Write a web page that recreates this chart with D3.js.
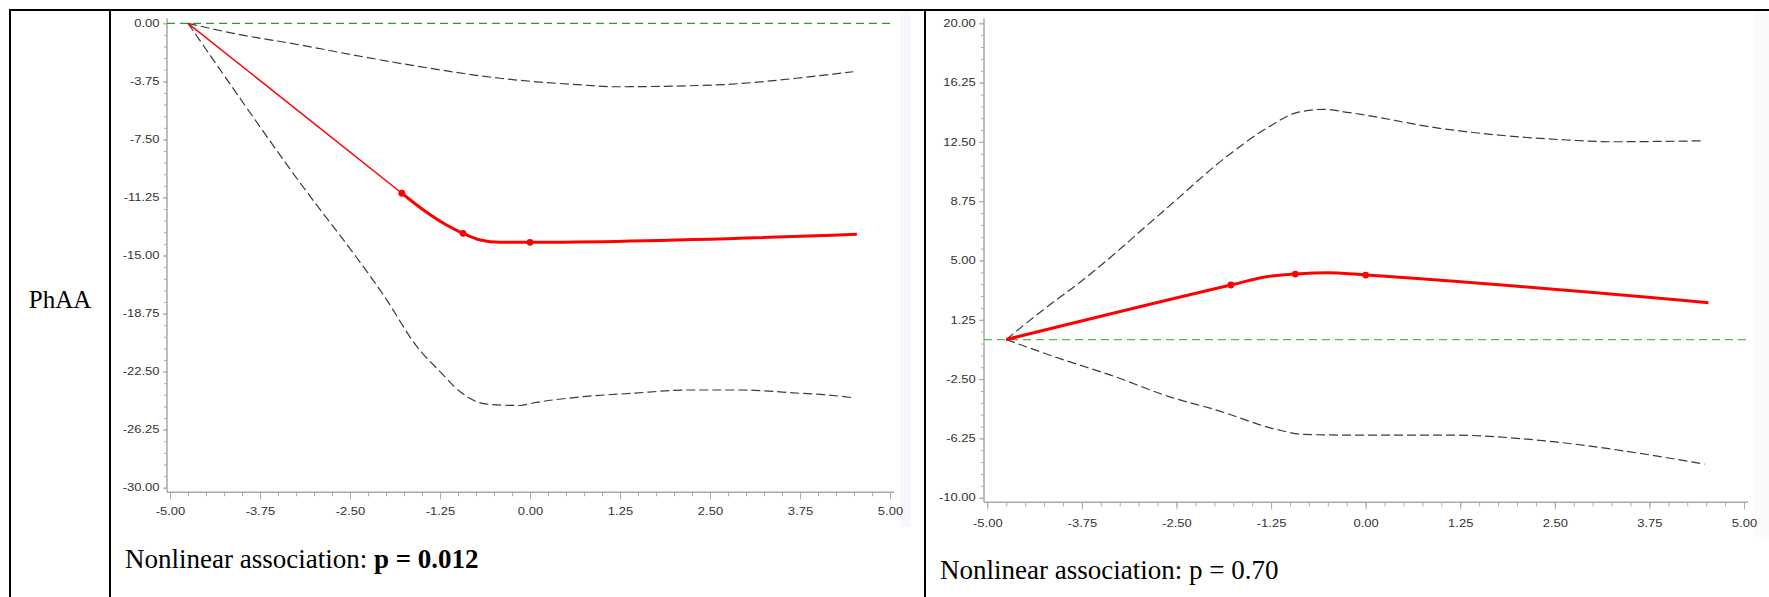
<!doctype html>
<html lang="en">
<head>
  <meta charset="UTF-8">
  <title>PhAA</title>
  <script src="https://cdn.jsdelivr.net/npm/d3@7"></script>
</head>
<body style="margin: 0; background: white">
<div id="container"></div>
<script type="text/javascript">
// tick values
var xTicks = [-5, -3.75, -2.5, -1.25, 0, 1.25, 2.5, 3.75, 5];
var leftYTicks = [-30, -26.25, -22.5, -18.75, -15, -11.25, -7.5, -3.75, 0];
var rightYTicks = [-10, -6.25, -2.5, 1.25, 5, 8.75, 12.5, 16.25, 20];

// left panel: [x, y]
var leftEstimateStart = [[-4.75, 0], [-1.78, -10.98]];
var leftEstimate = [[-1.78, -10.98], [-1.48, -12.06], [-1.16, -13.03], [-0.93, -13.57],
  [-0.69, -14.0], [-0.42, -14.15], [0, -14.15], [4.54, -13.63]];
var leftKnots = [[-1.78, -10.98], [-0.93, -13.57], [0, -14.15]];
var leftUpper = [[-4.75, 0], [-4.12, -0.65], [-3.19, -1.40], [-2.45, -2.05], [-1.53, -2.80],
  [-0.42, -3.55], [0.74, -3.99], [1.15, -4.10], [2.54, -3.99], [3.7, -3.55], [4.21, -3.28], [4.49, -3.13]];
var leftLower = [[-4.75, 0], [-3.29, -9.69], [-1.99, -17.87], [-1.57, -20.89], [-1.25, -22.5],
  [-0.97, -23.8], [-0.60, -24.6], [-0.14, -24.69], [0.04, -24.53], [0.74, -24.12], [1.43, -23.9],
  [2.18, -23.69], [2.92, -23.69], [3.75, -23.9], [4.13, -24.01], [4.49, -24.19]];

// right panel
var rightEstimate = [[-4.75, 0], [-1.78, 3.45], [-1.31, 3.97], [-0.93, 4.14], [-0.51, 4.23],
  [0, 4.08], [4.53, 2.33]];
var rightKnots = [[-1.78, 3.45], [-0.93, 4.14], [0, 4.08]];
var rightUpper = [[-4.75, 0], [-4.08, 2.54], [-3.91, 3.13], [-2.63, 8.3], [-1.84, 11.56],
  [-1.31, 13.36], [-0.91, 14.35], [-0.56, 14.56], [-0.21, 14.35], [0.98, 13.36], [2.66, 12.62],
  [3.27, 12.51], [4.46, 12.57]];
var rightLower = [[-4.75, 0], [-4.0, -1.27], [-3.38, -2.23], [-2.59, -3.62], [-1.97, -4.46],
  [-1.18, -5.68], [-0.82, -6.0], [-0.21, -6.04], [1.11, -6.04], [2.48, -6.46], [3.63, -7.2], [4.48, -7.88]];

var rowLabel = 'PhAA';
var noteText = 'Nonlinear association: ';
var leftP = 'p = 0.012';
var rightP = 'p = 0.70';

var svg = d3.select('#container').append('svg')
  .attr('width', 1769)
  .attr('height', 597)
  .style('display', 'block');

// faint edges of the pasted chart images
svg.append('rect').attr('x', 900).attr('y', 11).attr('width', 11).attr('height', 516).attr('fill', '#f6f8fd');
svg.append('rect').attr('x', 1754).attr('y', 11).attr('width', 15).attr('height', 526).attr('fill', '#fafafa');

function drawPanel(p) {
  var x = d3.scaleLinear().domain([-5, 5]).range([p.x0, p.x1]);
  var y = d3.scaleLinear().domain([p.yTicks[0], p.yTicks[p.yTicks.length - 1]]).range([p.yBottom, p.yTop]);
  var g = svg.append('g');
  var axisColor = '#a9a9a9';

  // axis lines
  g.append('line')
    .attr('x1', p.axisX).attr('x2', p.axisX)
    .attr('y1', p.yTop - 5).attr('y2', p.axisY)
    .attr('stroke', axisColor).attr('stroke-width', 1.5);
  g.append('line')
    .attr('x1', p.axisX).attr('x2', p.x1 + 4)
    .attr('y1', p.axisY).attr('y2', p.axisY)
    .attr('stroke', axisColor).attr('stroke-width', 1.5);

  // minor ticks
  var yMinor = d3.range(p.yTicks[0], p.yTicks[p.yTicks.length - 1] + 0.01, 0.75);
  var xMinor = d3.range(-5, 5.01, 0.25);
  g.append('g').attr('transform', 'translate(' + p.axisX + ',0)')
    .call(d3.axisLeft(y).tickValues(yMinor).tickSize(3).tickFormat(''));
  g.append('g').attr('transform', 'translate(0,' + p.axisY + ')')
    .call(d3.axisBottom(x).tickValues(xMinor).tickSize(4).tickFormat(''));

  // major ticks
  var fmt = function(d) { return d.toFixed(2); };
  var ya = g.append('g').attr('transform', 'translate(' + p.axisX + ',0)')
    .call(d3.axisLeft(y).tickValues(p.yTicks).tickSize(p.yTickSize).tickFormat(fmt));
  var xa = g.append('g').attr('transform', 'translate(0,' + p.axisY + ')')
    .call(d3.axisBottom(x).tickValues(xTicks).tickSize(7).tickFormat(fmt));

  g.selectAll('.domain').remove();
  g.selectAll('.tick line').attr('stroke', axisColor);
  g.selectAll('.tick text')
    .attr('fill', '#333')
    .style('font-family', '"Liberation Sans", Arial, sans-serif')
    .style('font-size', '10px')
    .attr('transform', 'scale(1.3,1)');
  ya.selectAll('.tick text').attr('x', -p.yLabelGap / 1.3);
  xa.selectAll('.tick text').attr('y', p.xLabelBaseline).attr('dy', 0);

  // reference line at zero
  g.append('line')
    .attr('x1', p.axisX).attr('x2', p.x1 + 2)
    .attr('y1', y(0)).attr('y2', y(0))
    .attr('stroke', p.refColor).attr('stroke-width', 1.3)
    .attr('stroke-dasharray', '8,5');

  var line = d3.line()
    .x(function(d) { return x(d[0]); })
    .y(function(d) { return y(d[1]); })
    .curve(d3.curveMonotoneX);

  // confidence limits
  [p.upper, p.lower].forEach(function(band) {
    g.append('path')
      .attr('d', line(band))
      .attr('fill', 'none')
      .attr('stroke', '#3a3a3a')
      .attr('stroke-width', 1.2)
      .attr('stroke-dasharray', '9,4');
  });

  // estimate
  if (p.estimateStart) {
    g.append('path')
      .attr('d', line(p.estimateStart))
      .attr('fill', 'none')
      .attr('stroke', '#ff0000')
      .attr('stroke-width', 1.5);
  }
  g.append('path')
    .attr('d', line(p.estimate))
    .attr('fill', 'none')
    .attr('stroke', '#ff0000')
    .attr('stroke-width', 3);

  g.selectAll('.knot').data(p.knots).enter()
    .append('circle')
    .attr('class', 'knot')
    .attr('cx', function(d) { return x(d[0]); })
    .attr('cy', function(d) { return y(d[1]); })
    .attr('r', 3.4)
    .attr('fill', '#ff0000');

  // note under the chart
  var t = svg.append('text')
    .attr('x', p.noteX)
    .attr('y', p.noteY)
    .style('font-family', '"Liberation Serif", "Times New Roman", serif')
    .style('font-size', '27px')
    .attr('fill', '#000');
  t.append('tspan').text(noteText);
  t.append('tspan').text(p.pText).style('font-weight', p.pBold ? 'bold' : 'normal');
}

drawPanel({
  x0: 170, x1: 890, yTop: 23.3, yBottom: 487.7, axisX: 167, axisY: 492.3,
  yTicks: leftYTicks, yTickSize: 4, yLabelGap: 7.5, xLabelBaseline: 22.5,
  refColor: '#33973a',
  upper: leftUpper, lower: leftLower,
  estimateStart: leftEstimateStart, estimate: leftEstimate, knots: leftKnots,
  noteX: 125, noteY: 568, pText: leftP, pBold: true
});

drawPanel({
  x0: 987.3, x1: 1744, yTop: 23.3, yBottom: 497.7, axisX: 984, axisY: 502.3,
  yTicks: rightYTicks, yTickSize: 5, yLabelGap: 8.3, xLabelBaseline: 24.4,
  refColor: '#5cb85c',
  upper: rightUpper, lower: rightLower,
  estimateStart: null, estimate: rightEstimate, knots: rightKnots,
  noteX: 940, noteY: 579, pText: rightP, pBold: false
});

// table borders
var border = svg.append('g').attr('stroke', '#000').attr('stroke-width', 2);
border.append('line').attr('x1', 9).attr('x2', 1769).attr('y1', 10).attr('y2', 10);
[10, 110, 925].forEach(function(bx) {
  border.append('line').attr('x1', bx).attr('x2', bx).attr('y1', 9).attr('y2', 597);
});

svg.append('text')
  .attr('x', 60)
  .attr('y', 308)
  .attr('text-anchor', 'middle')
  .style('font-family', '"Liberation Serif", "Times New Roman", serif')
  .style('font-size', '25px')
  .text(rowLabel);
</script>
</body>
</html>
